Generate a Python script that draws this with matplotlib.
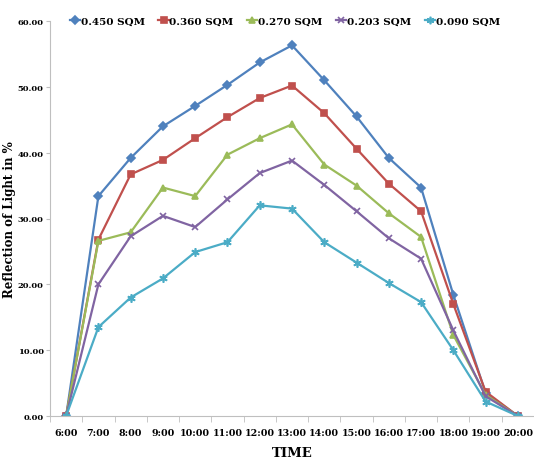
import matplotlib.pyplot as plt

times = ["6:00", "7:00", "8:00", "9:00", "10:00", "11:00", "12:00", "13:00",
         "14:00", "15:00", "16:00", "17:00", "18:00", "19:00", "20:00"]

s450 = [0, 33.4, 39.2, 44.0, 47.1, 50.3, 53.7, 56.3, 51.0, 45.5, 39.2, 34.7, 18.4, 3.5, 0]
s360 = [0, 26.8, 36.7, 38.9, 42.2, 45.4, 48.3, 50.2, 46.0, 40.6, 35.3, 31.1, 17.0, 3.7, 0]
s270 = [0, 26.6, 27.9, 34.7, 33.4, 39.7, 42.2, 44.3, 38.2, 35.0, 30.8, 27.2, 12.3, 3.2, 0]
s203 = [0, 20.0, 27.3, 30.4, 28.7, 32.9, 36.9, 38.8, 35.1, 31.1, 27.0, 23.9, 13.0, 3.0, 0]
s090 = [0, 13.5, 18.0, 20.9, 24.9, 26.4, 32.0, 31.5, 26.4, 23.3, 20.2, 17.3, 10.0, 2.2, 0]

labels = ["0.450 SQM", "0.360 SQM", "0.270 SQM", "0.203 SQM", "0.090 SQM"]
series = [s450, s360, s270, s203, s090]
colors = ["#4F81BD", "#C0504D", "#9BBB59", "#8064A2", "#4BACC6"]
markers = ["D", "s", "^", "x", (6, 2, 0)]
sizes = [4, 5, 5, 5, 6]

plt.rcParams["font.family"] = "DejaVu Serif"

fig = plt.figure(figsize=(5.34, 4.6), dpi=100)
ax = fig.add_axes([50 / 534, 43 / 460, 1 - 50 / 534, 395 / 460])

x = list(range(len(times)))
for ys, lab, c, m, ms in zip(series, labels, colors, markers, sizes):
    ax.plot(x, ys, color=c, marker=m, markersize=ms, linewidth=1.6,
            markeredgewidth=1.2, label=lab)

ax.set_xlim(-0.5, 14.4)
ax.set_ylim(0, 60)
ax.set_yticks(range(0, 61, 10))
ax.set_yticklabels([f"{v:.2f}" for v in range(0, 61, 10)], fontsize=6, fontweight="bold")
ax.set_xticks(x)
ax.set_xticklabels(times, fontsize=6.8, fontweight="bold")
ax.set_xticks([i - 0.5 for i in range(len(times) + 1)], minor=True)
ax.tick_params(axis="x", which="major", length=0, pad=9)
ax.tick_params(axis="x", which="minor", length=4, color="#BFBFBF")
ax.tick_params(axis="y", length=3, color="#BFBFBF", pad=1.5)

for sp in ["top", "right"]:
    ax.spines[sp].set_visible(False)
for sp in ["left", "bottom"]:
    ax.spines[sp].set_color("#BFBFBF")

ax.set_xlabel("TIME", fontsize=9.5, fontweight="bold", labelpad=6)
ax.set_ylabel("Reflection of Light in %", fontsize=8.5, fontweight="bold")
ax.yaxis.set_label_coords(-0.071, 0.5)

ax.legend(loc="center", bbox_to_anchor=(0.485, 1.0), ncol=5, frameon=False,
          prop={"weight": "bold", "size": 7.5}, handlelength=1.0,
          handletextpad=0.05, columnspacing=1.3, markerscale=0.9)

fig.savefig("out.png", dpi=100)
